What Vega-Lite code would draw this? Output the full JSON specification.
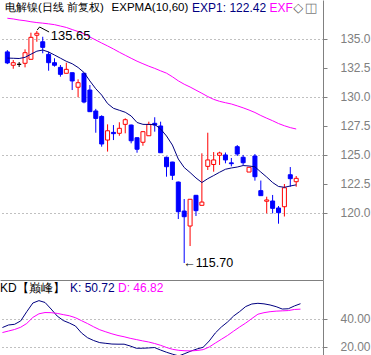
{
  "$schema": "https://vega.github.io/schema/vega-lite/v6.json",
  "padding": 0,
  "spacing": 0,
  "bounds": "flush",
  "background": "white",
  "config": {
    "view": {"stroke": null},
    "axis": {"domainColor": "#808080", "tickColor": "#808080", "labelColor": "#808080", "labelFont": "Liberation Sans", "labelFontSize": 12, "gridColor": "#808080", "gridDash": [1, 3], "title": null, "labelFlush": false, "labelOverlap": false},
    "text": {"font": "Liberation Sans", "fontSize": 12}
  },
  "data": {"values": [
    {"i":1,"o":133.85,"h":134.0,"l":132.8,"c":132.9,"e1":133.32,"e2":136.74,"k":33.7,"d":30.1},
    {"i":2,"o":132.7,"h":133.15,"l":132.4,"c":132.92,"e1":133.3,"e2":136.68,"k":35.5,"d":31.2},
    {"i":3,"o":132.78,"h":132.98,"l":132.55,"c":132.78,"e1":133.28,"e2":136.59,"k":36.0,"d":32.3},
    {"i":4,"o":132.87,"h":134.07,"l":132.52,"c":133.78,"e1":133.38,"e2":136.53,"k":38.4,"d":33.9},
    {"i":5,"o":133.21,"h":135.5,"l":133.21,"c":135.1,"e1":133.65,"e2":136.44,"k":45.0,"d":36.6},
    {"i":6,"o":135.28,"h":135.65,"l":134.72,"c":135.45,"e1":133.91,"e2":136.37,"k":51.2,"d":40.9},
    {"i":7,"o":134.72,"h":135.15,"l":133.73,"c":134.24,"e1":134.01,"e2":136.32,"k":52.9,"d":43.5},
    {"i":8,"o":133.64,"h":133.87,"l":132.23,"c":132.92,"e1":133.84,"e2":136.26,"k":51.6,"d":44.4},
    {"i":9,"o":132.92,"h":133.3,"l":132.58,"c":132.7,"e1":133.58,"e2":136.19,"k":46.9,"d":44.3},
    {"i":10,"o":132.52,"h":132.72,"l":131.72,"c":131.92,"e1":133.31,"e2":136.07,"k":41.9,"d":43.8},
    {"i":11,"o":132.01,"h":132.92,"l":132.01,"c":132.35,"e1":133.04,"e2":135.95,"k":38.7,"d":42.9},
    {"i":12,"o":132.06,"h":132.06,"l":130.57,"c":131.35,"e1":132.83,"e2":135.77,"k":36.9,"d":42.1},
    {"i":13,"o":130.81,"h":131.49,"l":129.95,"c":131.2,"e1":132.51,"e2":135.6,"k":34.8,"d":40.7},
    {"i":14,"o":132.01,"h":132.05,"l":129.43,"c":129.54,"e1":132.08,"e2":135.4,"k":29.8,"d":38.6},
    {"i":15,"o":130.57,"h":131.0,"l":128.71,"c":128.71,"e1":131.35,"e2":135.13,"k":26.4,"d":36.5},
    {"i":16,"o":128.77,"h":128.95,"l":126.9,"c":128.13,"e1":130.68,"e2":134.87,"k":24.4,"d":34.2},
    {"i":17,"o":128.3,"h":128.4,"l":125.7,"c":125.93,"e1":130.14,"e2":134.61,"k":22.9,"d":32.1},
    {"i":18,"o":126.27,"h":127.62,"l":125.28,"c":127.07,"e1":129.41,"e2":134.36,"k":22.4,"d":30.6},
    {"i":19,"o":126.93,"h":127.56,"l":126.27,"c":126.82,"e1":129.0,"e2":134.1,"k":21.9,"d":29.2},
    {"i":20,"o":126.85,"h":127.8,"l":126.64,"c":127.28,"e1":128.83,"e2":133.82,"k":21.8,"d":28.0},
    {"i":21,"o":127.62,"h":128.14,"l":126.85,"c":128.02,"e1":128.66,"e2":133.56,"k":21.8,"d":27.1},
    {"i":22,"o":127.56,"h":127.6,"l":125.99,"c":126.21,"e1":128.34,"e2":133.3,"k":20.5,"d":26.0},
    {"i":23,"o":126.47,"h":126.5,"l":125.18,"c":125.48,"e1":127.78,"e2":133.05,"k":18.9,"d":25.1},
    {"i":24,"o":126.08,"h":127.05,"l":125.78,"c":126.99,"e1":127.62,"e2":132.83,"k":18.9,"d":24.2},
    {"i":25,"o":126.64,"h":127.85,"l":126.64,"c":127.62,"e1":127.61,"e2":132.62,"k":19.1,"d":23.4},
    {"i":26,"o":127.71,"h":128.23,"l":126.99,"c":127.56,"e1":127.61,"e2":132.43,"k":19.4,"d":22.3},
    {"i":27,"o":127.48,"h":127.85,"l":125.18,"c":125.18,"e1":127.22,"e2":132.22,"k":17.6,"d":21.0},
    {"i":28,"o":124.79,"h":124.85,"l":123.12,"c":123.98,"e1":126.62,"e2":132.02,"k":16.0,"d":19.4},
    {"i":29,"o":124.38,"h":124.4,"l":122.84,"c":123.24,"e1":125.84,"e2":131.71,"k":14.6,"d":18.1},
    {"i":30,"o":122.66,"h":122.7,"l":119.48,"c":120.11,"e1":124.64,"e2":131.36,"k":13.4,"d":17.4},
    {"i":31,"o":120.17,"h":121.2,"l":115.7,"c":119.68,"e1":123.91,"e2":131.07,"k":15.1,"d":17.1},
    {"i":32,"o":118.88,"h":121.18,"l":117.16,"c":121.18,"e1":123.48,"e2":130.83,"k":16.9,"d":17.0},
    {"i":33,"o":121.52,"h":121.55,"l":119.74,"c":120.2,"e1":123.01,"e2":130.56,"k":18.4,"d":17.3},
    {"i":34,"o":120.66,"h":125.13,"l":120.66,"c":120.94,"e1":122.62,"e2":130.29,"k":19.6,"d":17.9},
    {"i":35,"o":124.01,"h":126.9,"l":123.7,"c":124.56,"e1":122.95,"e2":130.01,"k":24.1,"d":19.8},
    {"i":36,"o":124.17,"h":125.24,"l":123.55,"c":124.56,"e1":123.22,"e2":129.77,"k":29.8,"d":22.6},
    {"i":37,"o":124.96,"h":125.27,"l":124.13,"c":125.16,"e1":123.5,"e2":129.6,"k":34.1,"d":25.3},
    {"i":38,"o":124.99,"h":125.2,"l":124.27,"c":124.56,"e1":123.76,"e2":129.48,"k":37.6,"d":28.0},
    {"i":39,"o":124.31,"h":124.73,"l":124.01,"c":124.24,"e1":123.87,"e2":129.37,"k":41.9,"d":31.1},
    {"i":40,"o":125.7,"h":125.84,"l":124.9,"c":125.07,"e1":123.95,"e2":129.21,"k":45.1,"d":34.1},
    {"i":41,"o":124.79,"h":124.99,"l":124.13,"c":124.32,"e1":124.08,"e2":129.04,"k":48.7,"d":36.9},
    {"i":42,"o":123.52,"h":123.93,"l":123.52,"c":123.93,"e1":124.04,"e2":128.85,"k":50.5,"d":40.1},
    {"i":43,"o":124.9,"h":125.07,"l":122.78,"c":123.12,"e1":123.97,"e2":128.64,"k":51.0,"d":43.2},
    {"i":44,"o":121.92,"h":122.79,"l":121.49,"c":121.49,"e1":123.52,"e2":128.38,"k":50.6,"d":44.3},
    {"i":45,"o":121.01,"h":121.4,"l":119.97,"c":121.12,"e1":123.09,"e2":128.15,"k":49.8,"d":45.0},
    {"i":46,"o":121.03,"h":121.55,"l":119.97,"c":120.4,"e1":122.62,"e2":127.93,"k":48.6,"d":45.4},
    {"i":47,"o":120.43,"h":120.6,"l":119.08,"c":120.03,"e1":122.28,"e2":127.69,"k":46.9,"d":45.6},
    {"i":48,"o":120.54,"h":122.49,"l":119.7,"c":122.17,"e1":122.21,"e2":127.5,"k":47.1,"d":45.8},
    {"i":49,"o":123.29,"h":123.95,"l":122.26,"c":122.95,"e1":122.32,"e2":127.34,"k":49.1,"d":46.6},
    {"i":50,"o":122.69,"h":123.18,"l":122.26,"c":122.98,"e1":122.42,"e2":127.22,"k":50.72,"d":46.82}
  ]},
  "vconcat": [
    {
      "width": 323,
      "height": 280,
      "layer": [
        {
          "mark": {"type": "rule", "strokeWidth": 1},
          "encoding": {
            "x": {"field": "i", "type": "quantitative", "scale": {"domain": [0.6, 53.7], "nice": false, "zero": false}, "axis": null},
            "y": {"field": "l", "type": "quantitative", "scale": {"domain": [114.24, 138.31], "nice": false, "zero": false},
              "axis": {"orient": "right", "values": [120, 121.25, 122.5, 123.75, 125, 126.25, 127.5, 128.75, 130, 131.25, 132.5, 133.75, 135],
                "labelExpr": "datum.value % 2.5 === 0 ? format(datum.value, '.1f') : ''",
                "grid": true,
                "gridOpacity": {"condition": {"test": "datum.value % 5 === 0", "value": 1}, "value": 0},
                "tickSize": {"condition": {"test": "datum.value % 2.5 === 0", "value": 4}, "value": 2},
                "labelPadding": 13}},
            "y2": {"field": "h"},
            "color": {"condition": [{"test": "datum.c > datum.o", "value": "#FF0000"}, {"test": "datum.c < datum.o", "value": "#0000FF"}], "value": "#000000"}
          }
        },
        {
          "mark": {"type": "bar", "size": 4, "strokeWidth": 1},
          "encoding": {
            "x": {"field": "i", "type": "quantitative"},
            "y": {"field": "o", "type": "quantitative"},
            "y2": {"field": "c"},
            "fill": {"condition": [{"test": "datum.c > datum.o", "value": "#FFFFFF"}, {"test": "datum.c < datum.o", "value": "#0000FF"}], "value": "#000000"},
            "stroke": {"condition": [{"test": "datum.c > datum.o", "value": "#FF0000"}, {"test": "datum.c < datum.o", "value": "#0000FF"}], "value": "#000000"}
          }
        },
        {"mark": {"type": "line", "color": "#000080", "strokeWidth": 1}, "encoding": {"x": {"field": "i", "type": "quantitative"}, "y": {"field": "e1", "type": "quantitative"}}},
        {"mark": {"type": "line", "color": "#FF00FF", "strokeWidth": 1}, "encoding": {"x": {"field": "i", "type": "quantitative"}, "y": {"field": "e2", "type": "quantitative"}}},
        {
          "data": {"values": [{"t": "电解镍(日线 前复权)"}]},
          "mark": {"type": "text", "align": "left", "baseline": "middle", "color": "#000000", "fontSize": 11.4},
          "encoding": {"x": {"datum": 0.6, "type": "quantitative"}, "y": {"datum": 137.66, "type": "quantitative"}, "text": {"field": "t"}}
        },
        {
          "data": {"values": [{"t": "EXPMA(10,60)"}]},
          "mark": {"type": "text", "align": "left", "baseline": "middle", "color": "#000000", "fontSize": 11.5},
          "encoding": {"x": {"datum": 18.68, "type": "quantitative"}, "y": {"datum": 137.66, "type": "quantitative"}, "text": {"field": "t"}}
        },
        {
          "data": {"values": [{"t": "EXP1: 122.42"}]},
          "mark": {"type": "text", "align": "left", "baseline": "middle", "color": "#000080"},
          "encoding": {"x": {"datum": 32.33, "type": "quantitative"}, "y": {"datum": 137.66, "type": "quantitative"}, "text": {"field": "t"}}
        },
        {
          "data": {"values": [{"t": "EXF"}]},
          "mark": {"type": "text", "align": "left", "baseline": "middle", "color": "#FF00FF"},
          "encoding": {"x": {"datum": 45.48, "type": "quantitative"}, "y": {"datum": 137.66, "type": "quantitative"}, "text": {"field": "t"}}
        },
        {
          "data": {"values": [{"t": "◇"}]},
          "mark": {"type": "text", "align": "left", "baseline": "middle", "color": "#606060", "font": "DejaVu Sans", "fontSize": 13},
          "encoding": {"x": {"datum": 49.5, "type": "quantitative"}, "y": {"datum": 137.66, "type": "quantitative"}, "text": {"field": "t"}}
        },
        {
          "data": {"values": [{"t": "◫"}]},
          "mark": {"type": "text", "align": "left", "baseline": "middle", "color": "#808080", "font": "DejaVu Sans", "fontSize": 13},
          "encoding": {"x": {"datum": 51.45, "type": "quantitative"}, "y": {"datum": 137.66, "type": "quantitative"}, "text": {"field": "t"}}
        },
        {
          "data": {"values": [{"a": 1}]},
          "mark": {"type": "rule", "color": "#000000", "strokeWidth": 1},
          "encoding": {"x": {"datum": 6.06, "type": "quantitative"}, "y": {"datum": 135.73, "type": "quantitative"}, "x2": {"datum": 6.47}, "y2": {"datum": 135.99}}
        },
        {
          "data": {"values": [{"a": 1}]},
          "mark": {"type": "rule", "color": "#000000", "strokeWidth": 1},
          "encoding": {"x": {"datum": 6.47, "type": "quantitative"}, "y": {"datum": 135.99, "type": "quantitative"}, "x2": {"datum": 8.08}, "y2": {"datum": 135.56}}
        },
        {
          "data": {"values": [{"t": "135.65"}]},
          "mark": {"type": "text", "align": "left", "baseline": "middle", "color": "#000000", "fontSize": 13},
          "encoding": {"x": {"datum": 8.35, "type": "quantitative"}, "y": {"datum": 135.2, "type": "quantitative"}, "text": {"field": "t"}}
        },
        {
          "data": {"values": [{"t": "←115.70"}]},
          "mark": {"type": "text", "align": "left", "baseline": "middle", "color": "#000000", "fontSize": 12.5},
          "encoding": {"x": {"datum": 30.85, "type": "quantitative"}, "y": {"datum": 115.7, "type": "quantitative"}, "text": {"field": "t"}}
        }
      ]
    },
    {
      "width": 323,
      "height": 75,
      "layer": [
        {
          "mark": {"type": "line", "color": "#000080", "strokeWidth": 1, "clip": true},
          "encoding": {
            "x": {"field": "i", "type": "quantitative", "scale": {"domain": [0.6, 53.7], "nice": false, "zero": false},
              "axis": {"orient": "top", "labels": false, "ticks": false, "grid": false, "domain": true}},
            "y": {"field": "k", "type": "quantitative", "scale": {"domain": [14.07, 67.64], "nice": false, "zero": false},
            "axis": {"orient": "right", "values": [20, 30, 40],
              "labelExpr": "datum.value === 30 ? '' : format(datum.value, '.2f')",
              "grid": true,
              "gridOpacity": {"condition": {"test": "datum.value === 30", "value": 0}, "value": 1},
              "tickSize": {"condition": {"test": "datum.value === 30", "value": 2}, "value": 4},
              "labelPadding": 13}}}
        },
        {"mark": {"type": "line", "color": "#FF00FF", "strokeWidth": 1, "clip": true}, "encoding": {"x": {"field": "i", "type": "quantitative"}, "y": {"field": "d", "type": "quantitative"}}},
        {
          "data": {"values": [{"t": "KD【巅峰】"}]},
          "mark": {"type": "text", "align": "left", "baseline": "middle", "color": "#000000"},
          "encoding": {"x": {"datum": 0.6, "type": "quantitative"}, "y": {"datum": 61.93, "type": "quantitative"}, "text": {"field": "t"}}
        },
        {
          "data": {"values": [{"t": "K: 50.72"}]},
          "mark": {"type": "text", "align": "left", "baseline": "middle", "color": "#000080"},
          "encoding": {"x": {"datum": 12.11, "type": "quantitative"}, "y": {"datum": 61.93, "type": "quantitative"}, "text": {"field": "t"}}
        },
        {
          "data": {"values": [{"t": "D: 46.82"}]},
          "mark": {"type": "text", "align": "left", "baseline": "middle", "color": "#FF00FF"},
          "encoding": {"x": {"datum": 20.0, "type": "quantitative"}, "y": {"datum": 61.93, "type": "quantitative"}, "text": {"field": "t"}}
        }
      ]
    }
  ]
}
